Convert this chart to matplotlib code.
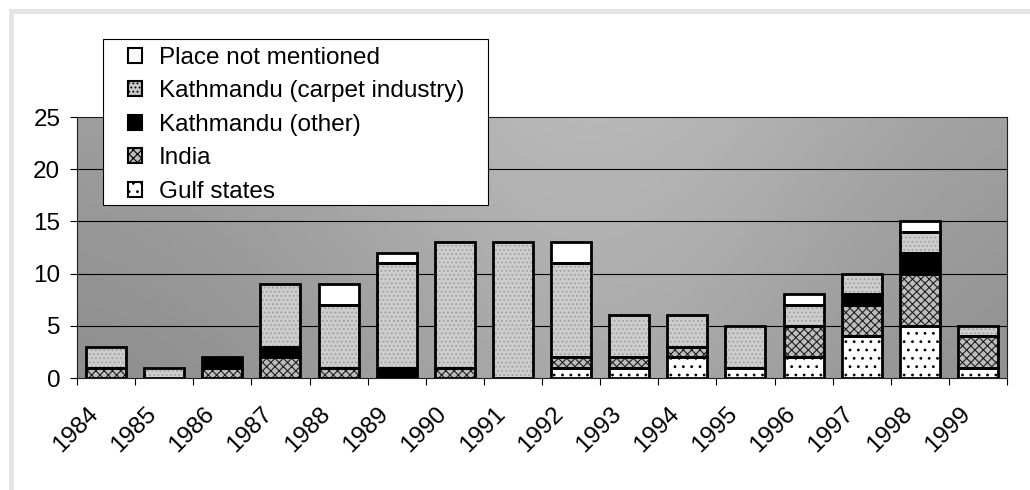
import numpy as np
import matplotlib
matplotlib.use('Agg')
import matplotlib.pyplot as plt
import matplotlib.transforms as mtransforms
from matplotlib.patches import Patch, Rectangle

plt.rcParams['font.family'] = ['Liberation Sans', 'DejaVu Sans']
plt.rcParams['hatch.linewidth'] = 0.8

years = [str(y) for y in range(1984, 2000)]
gulf_states = [0, 0, 0, 0, 0, 0, 0, 0, 1, 1, 2, 1, 2, 4, 5, 1]
india = [1, 0, 1, 2, 1, 0, 1, 0, 1, 1, 1, 0, 3, 3, 5, 3]
kathmandu_other = [0, 0, 1, 1, 0, 1, 0, 0, 0, 0, 0, 0, 0, 1, 2, 0]
kathmandu_carpet = [2, 1, 0, 6, 6, 10, 12, 13, 9, 4, 3, 4, 2, 2, 2, 1]
place_not_mentioned = [0, 0, 0, 0, 2, 1, 0, 0, 2, 0, 0, 0, 1, 0, 1, 0]

series = [
    ("Gulf states", gulf_states, "white", "..", "black"),
    ("India", india, "#bdbdbd", "xxxx", "#202020"),
    ("Kathmandu (other)", kathmandu_other, "black", None, "black"),
    ("Kathmandu (carpet industry)", kathmandu_carpet, "#cdcdcd", "....", "#a0a0a0"),
    ("Place not mentioned", place_not_mentioned, "white", None, "white"),
]

W, H = 1030, 490
FS = 17.5
fig = plt.figure(figsize=(W / 100, H / 100), dpi=100)
fig.patch.set_facecolor('white')
ax = fig.add_axes([77 / W, 1 - 378 / H, 930 / W, 261 / H])

n = len(years)
x = np.arange(n)

# background gradient
gx = np.linspace(0, 1, 300)
gy = np.linspace(0, 1, 100)
GX, GY = np.meshgrid(gx, gy)
G = 0.55 + 0.11 * np.exp(-((GX - 0.55) / 0.33) ** 2) + 0.06 * GY
ax.imshow(G, extent=[-0.5, n - 0.5, 0, 25], origin='lower', cmap='gray',
          vmin=0, vmax=1, aspect='auto', zorder=0, interpolation='bilinear')

for yv in [5, 10, 15, 20]:
    ax.axhline(yv, color='black', linewidth=0.8, zorder=1)

bottom = np.zeros(n)
width = 0.69
for name, vals, face, hatch, hcol in series:
    v = np.array(vals, dtype=float)
    ax.bar(x, v, width, bottom=bottom, color=face, hatch=hatch,
           edgecolor=hcol, linewidth=0, zorder=2)
    mask = v > 0
    ax.bar(x[mask], v[mask], width, bottom=bottom[mask], fill=False,
           edgecolor='black', linewidth=2.0, zorder=3)
    bottom += v

ax.set_xlim(-0.5, n - 0.5)
ax.set_ylim(0, 25)
ax.set_yticks([0, 5, 10, 15, 20, 25])
ax.tick_params(axis='y', labelsize=FS, length=5, width=0.8, pad=7)
ax.set_xticks(np.arange(-0.5, n, 1.0))
ax.set_xticklabels([])
ax.set_xticks(x, minor=True)
ax.set_xticklabels(years, minor=True, rotation=45, ha='right',
                   rotation_mode='anchor', fontsize=FS)
ax.tick_params(axis='x', which='major', length=5, width=0.8)
ax.tick_params(axis='x', which='minor', length=0, pad=18)
shift = mtransforms.ScaledTranslation(-0.19, 0, fig.dpi_scale_trans)
for lab in ax.get_xticklabels(minor=True):
    lab.set_transform(lab.get_transform() + shift)
for s in ax.spines.values():
    s.set_linewidth(0.8)
    s.set_color('#202020')

# legend frame
fig.patches.append(Rectangle((103 / W, 1 - 205 / H), 385 / W, 166 / H,
                             transform=fig.transFigure, facecolor='white',
                             edgecolor='black', linewidth=0.8, zorder=9))
handles = []
for name, vals, face, hatch, hcol in reversed(series):
    if name == "Kathmandu (carpet industry)":
        face = "#c8c8c8"
    handles.append(Patch(facecolor=face, hatch=hatch, edgecolor='black',
                         linewidth=1.5, label=name))
leg = fig.legend(handles=handles, loc='upper left',
                 bbox_to_anchor=(128 / W, 1 - 47 / H),
                 bbox_transform=fig.transFigure, fontsize=FS,
                 frameon=False, handlelength=0.58, handleheight=0.58,
                 handletextpad=0.7, labelspacing=0.47, borderpad=0,
                 borderaxespad=0)
leg.set_zorder(10)

fig.patches.append(Rectangle((10.5 / W, -0.2), 1.5, 1 - 11 / H + 0.2,
                             transform=fig.transFigure, fill=False,
                             edgecolor='#e4e4e4', linewidth=3.6, zorder=-1))

fig.savefig('out.png', dpi=100)
